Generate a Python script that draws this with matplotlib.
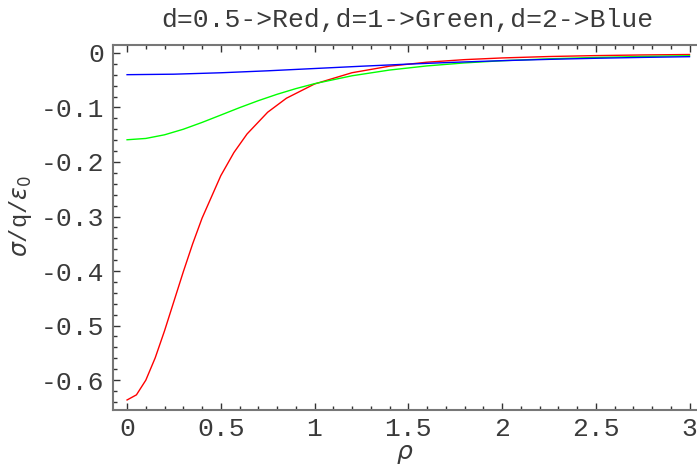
import matplotlib
matplotlib.use("Agg")
import matplotlib.pyplot as plt
from matplotlib.ticker import MultipleLocator

# rho values and sigma/(q/eps0)
rho_red = [0.0, 0.05, 0.1, 0.15, 0.2, 0.25, 0.3, 0.35, 0.4, 0.5, 0.57, 0.64,
           0.75, 0.85, 1.0, 1.2, 1.4, 1.6, 1.8, 2.0, 2.25, 2.5, 2.75, 3.0]
sig_red = [-0.6366, -0.6272, -0.6003, -0.5594, -0.5096, -0.4555, -0.4014,
           -0.3500, -0.3031, -0.2251, -0.1826, -0.1486, -0.1087, -0.0830,
           -0.0569, -0.0362, -0.0242, -0.0169, -0.0122, -0.0091, -0.0065,
           -0.0048, -0.0036, -0.0028]

rho_green = [0.0, 0.1, 0.2, 0.3, 0.4, 0.5, 0.6, 0.7, 0.8, 0.9, 1.0, 1.2, 1.4,
             1.6, 1.8, 2.0, 2.25, 2.5, 2.75, 3.0]
sig_green = [-0.1592, -0.1568, -0.1501, -0.1399, -0.1274, -0.1139, -0.1003,
             -0.0875, -0.0758, -0.0654, -0.0563, -0.0418, -0.0313, -0.0237,
             -0.0182, -0.0142, -0.0107, -0.0082, -0.0064, -0.0050]

rho_blue = [0.0, 0.25, 0.5, 0.75, 1.0, 1.25, 1.5, 1.75, 2.0, 2.25, 2.5, 2.75, 3.0]
sig_blue = [-0.0398, -0.0389, -0.0363, -0.0327, -0.0285, -0.0243, -0.0204,
            -0.0170, -0.0141, -0.0117, -0.0097, -0.0081, -0.0068]

x_ticks = [0, 0.5, 1, 1.5, 2, 2.5, 3]
x_labels = ["0", "0.5", "1", "1.5", "2", "2.5", "3"]
y_ticks = [0, -0.1, -0.2, -0.3, -0.4, -0.5, -0.6]
y_labels = ["0", "-0.1", "-0.2", "-0.3", "-0.4", "-0.5", "-0.6"]

title = "d=0.5->Red,d=1->Green,d=2->Blue"

mono = "Liberation Mono"
fs = 19
txt = "#3a3a3a"
fig = plt.figure(figsize=(6.97, 4.68), dpi=100)
ax = fig.add_axes([113/697, 58/468, 1 - 113/697, (410 - 44.7)/468])

lw = 1.0
ax.plot(rho_red, sig_red, color="#ff0000", lw=lw)
ax.plot(rho_green, sig_green, color="#00ff00", lw=lw)
ax.plot(rho_blue, sig_blue, color="#0000ff", lw=lw)

ax.set_xlim(-0.075, 3.04)
ax.set_ylim(-0.655, 0.0152)

ax.set_xticks(x_ticks)
ax.set_xticklabels(x_labels, fontfamily=mono, fontsize=fs, color=txt)
ax.set_yticks(y_ticks)
ax.set_yticklabels(y_labels, fontfamily=mono, fontsize=fs, color=txt)
ax.xaxis.set_minor_locator(MultipleLocator(0.1))
ax.yaxis.set_minor_locator(MultipleLocator(0.02))

ax.spines["right"].set_visible(False)
for s in ["left", "bottom", "top"]:
    ax.spines[s].set_color("#777777")
    ax.spines[s].set_linewidth(1.5)

ax.tick_params(which="both", direction="in", top=True, right=False,
               color="#333333", width=1.0)
ax.tick_params(which="major", length=5)
ax.tick_params(which="minor", length=3)
ax.tick_params(axis="x", which="major", pad=5)
ax.tick_params(axis="y", which="major", pad=6)

ax.set_xlabel(r"$\rho$", fontsize=18, color=txt)
ax.xaxis.label.set_va("baseline")
ax.xaxis.set_label_coords(0.5, -0.133)
ax.set_ylabel(r"$\sigma$/q/$\varepsilon_0$", fontsize=17, color=txt,
              fontfamily=mono)
ax.yaxis.label.set_va("center")
ax.yaxis.set_label_coords(-0.159, 0.53)
fig.text(407/697, 1 - 20/468, title, ha="center", va="center",
         fontfamily=mono, fontsize=fs, color=txt)

fig.savefig("out.png", dpi=100)
